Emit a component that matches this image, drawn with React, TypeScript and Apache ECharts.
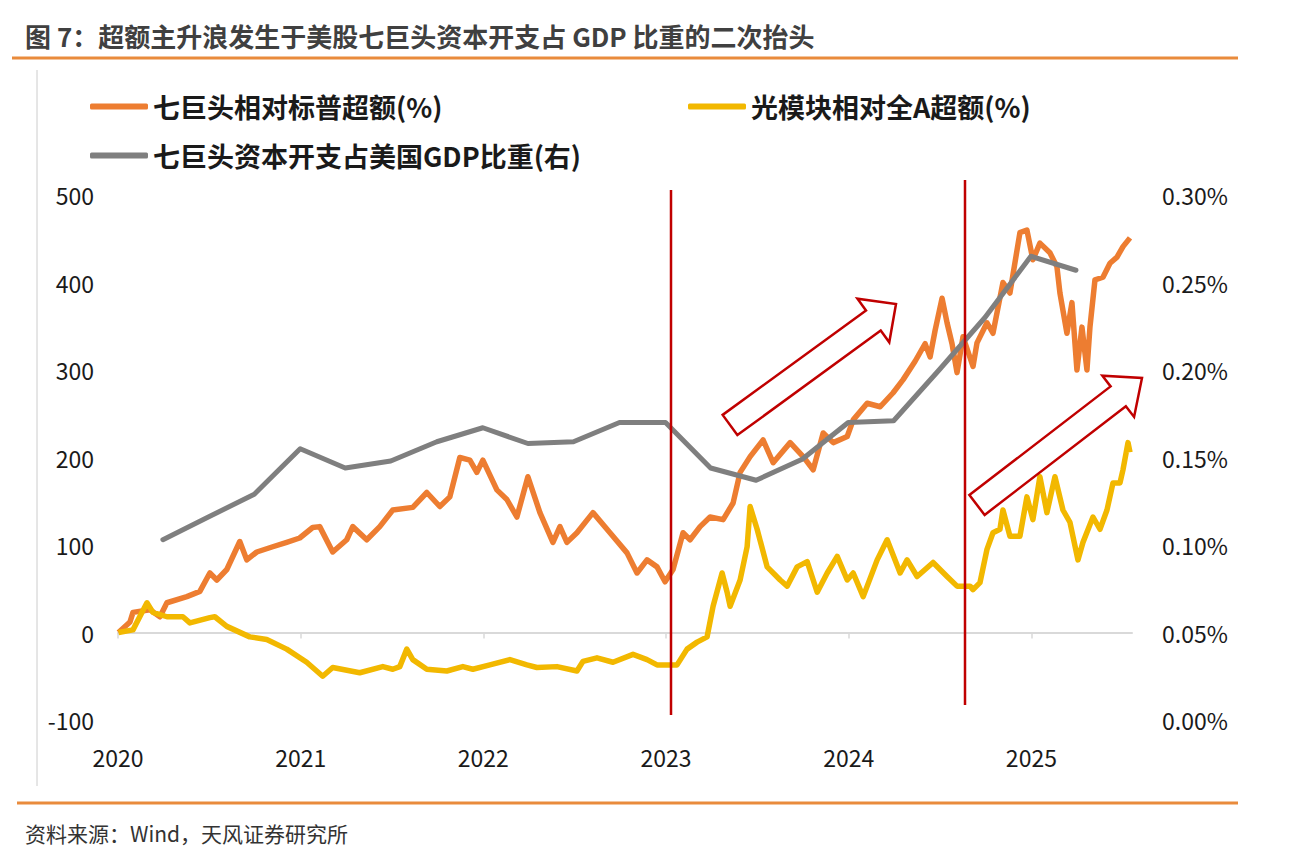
import React, { useEffect, useRef } from "react";
import * as echarts from "echarts";

// ---------- data ----------
const yearTicks = [2020, 2021, 2022, 2023, 2024, 2025];
const xEnd = "2025-07-21";
const leftTicks = { min: -100, max: 500, interval: 100 };
const rightTicks = { min: 0, max: 0.3, interval: 0.05 };

// 七巨头相对标普超额(%)
const mag7Excess: [string, number][] = [
  ["2020-01-02", 0], ["2020-01-25", 12], ["2020-01-31", 23], ["2020-03-05", 26],
  ["2020-03-25", 18], ["2020-04-08", 34], ["2020-05-18", 41], ["2020-06-13", 47],
  ["2020-07-03", 68], ["2020-07-17", 60], ["2020-08-06", 72], ["2020-09-01", 104],
  ["2020-09-15", 83], ["2020-10-05", 92], ["2020-11-06", 98], ["2020-12-04", 103],
  ["2020-12-30", 108], ["2021-01-25", 120], ["2021-02-08", 121], ["2021-03-06", 92],
  ["2021-04-03", 106], ["2021-04-15", 121], ["2021-05-13", 106], ["2021-06-08", 121],
  ["2021-07-04", 140], ["2021-08-13", 143], ["2021-09-10", 160], ["2021-10-06", 144],
  ["2021-10-26", 155], ["2021-11-15", 200], ["2021-12-05", 197], ["2021-12-19", 183],
  ["2021-12-31", 197], ["2022-01-28", 163], ["2022-02-17", 152], ["2022-03-09", 132],
  ["2022-03-31", 178], ["2022-04-24", 137], ["2022-05-20", 103], ["2022-06-03", 121],
  ["2022-06-17", 103], ["2022-07-07", 114], ["2022-08-08", 137], ["2022-09-11", 114],
  ["2022-10-15", 91], ["2022-11-04", 68], ["2022-11-24", 83], ["2022-12-14", 75],
  ["2022-12-30", 58], ["2023-01-15", 72], ["2023-02-04", 114], ["2023-02-18", 106],
  ["2023-03-10", 121], ["2023-03-30", 132], ["2023-04-25", 129], ["2023-05-15", 148],
  ["2023-05-29", 183], ["2023-06-18", 201], ["2023-07-14", 220], ["2023-08-03", 194],
  ["2023-09-06", 217], ["2023-10-02", 201], ["2023-10-22", 186], ["2023-11-11", 228],
  ["2023-12-01", 217], ["2023-12-29", 224], ["2024-01-10", 243], ["2024-02-07", 262],
  ["2024-03-04", 258], ["2024-03-30", 274], ["2024-04-19", 289], ["2024-05-13", 310],
  ["2024-06-02", 330], ["2024-06-12", 315], ["2024-06-22", 345], ["2024-07-06", 382],
  ["2024-07-16", 354], ["2024-07-26", 330], ["2024-08-05", 297], ["2024-08-17", 338],
  ["2024-09-06", 304], ["2024-09-14", 331], ["2024-10-04", 354], ["2024-10-16", 342],
  ["2024-11-05", 400], ["2024-11-19", 388], ["2024-12-09", 457], ["2024-12-23", 460],
  ["2025-01-04", 426], ["2025-01-18", 445], ["2025-02-07", 434], ["2025-02-21", 418],
  ["2025-02-27", 388], ["2025-03-13", 342], ["2025-03-23", 377], ["2025-04-02", 300],
  ["2025-04-12", 349], ["2025-04-22", 300], ["2025-04-28", 349], ["2025-05-08", 403],
  ["2025-05-24", 406], ["2025-06-07", 422], ["2025-06-21", 429], ["2025-07-03", 441],
  ["2025-07-17", 451],
];

// 光模块相对全A超额(%)
const opticalExcess: [string, number][] = [
  ["2020-01-02", 0], ["2020-01-31", 3], ["2020-02-28", 34], ["2020-03-11", 23],
  ["2020-04-08", 18], ["2020-05-10", 18], ["2020-05-24", 11], ["2020-07-03", 17],
  ["2020-07-13", 18], ["2020-08-06", 7], ["2020-09-21", -5], ["2020-10-25", -8],
  ["2020-12-04", -19], ["2021-01-13", -34], ["2021-02-14", -50], ["2021-03-06", -40],
  ["2021-04-29", -46], ["2021-06-14", -39], ["2021-07-04", -42], ["2021-07-18", -39],
  ["2021-08-01", -19], ["2021-08-13", -31], ["2021-09-10", -42], ["2021-10-20", -44],
  ["2021-11-21", -39], ["2021-12-11", -42], ["2022-01-14", -37], ["2022-02-23", -31],
  ["2022-03-29", -37], ["2022-04-18", -40], ["2022-05-28", -39], ["2022-07-07", -44],
  ["2022-07-19", -33], ["2022-08-16", -29], ["2022-09-17", -34], ["2022-10-27", -25],
  ["2022-11-24", -31], ["2022-12-14", -37], ["2023-01-23", -37], ["2023-02-12", -19],
  ["2023-03-04", -11], ["2023-03-24", -5], ["2023-04-05", 30], ["2023-04-23", 68],
  ["2023-05-03", 46], ["2023-05-09", 30], ["2023-05-29", 60], ["2023-06-12", 98],
  ["2023-06-18", 144], ["2023-07-02", 118], ["2023-07-22", 75], ["2023-08-17", 60],
  ["2023-08-31", 53], ["2023-09-20", 75], ["2023-10-10", 81], ["2023-10-30", 46],
  ["2023-11-19", 68], ["2023-12-09", 87], ["2023-12-29", 60], ["2024-01-10", 68],
  ["2024-01-30", 41], ["2024-02-27", 83], ["2024-03-18", 106], ["2024-04-13", 68],
  ["2024-04-27", 83], ["2024-05-17", 64], ["2024-06-18", 80], ["2024-07-16", 64],
  ["2024-08-05", 53], ["2024-08-31", 53], ["2024-09-06", 49], ["2024-09-20", 57],
  ["2024-10-04", 95], ["2024-10-16", 114], ["2024-10-30", 118], ["2024-11-05", 140],
  ["2024-11-19", 110], ["2024-12-09", 110], ["2024-12-23", 155], ["2025-01-04", 129],
  ["2025-01-18", 178], ["2025-02-01", 137], ["2025-02-17", 178], ["2025-03-05", 140],
  ["2025-03-19", 126], ["2025-04-04", 83], ["2025-04-14", 103], ["2025-05-04", 132],
  ["2025-05-18", 118], ["2025-06-01", 140], ["2025-06-13", 171], ["2025-06-27", 171],
  ["2025-07-03", 186], ["2025-07-13", 217], ["2025-07-17", 206],
];

// 七巨头资本开支占美国GDP比重(右), in %
const capexGdp: [string, number][] = [
  ["2020-03-31", 0.103], ["2020-06-30", 0.116], ["2020-09-30", 0.129], ["2020-12-31", 0.155],
  ["2021-03-31", 0.144], ["2021-06-30", 0.148], ["2021-09-30", 0.159], ["2021-12-31", 0.167],
  ["2022-03-31", 0.158], ["2022-06-30", 0.159], ["2022-09-30", 0.17], ["2022-12-31", 0.17],
  ["2023-03-31", 0.144], ["2023-06-30", 0.137], ["2023-09-30", 0.149], ["2023-12-31", 0.17],
  ["2024-03-31", 0.171], ["2024-06-30", 0.2], ["2024-09-30", 0.23], ["2024-12-31", 0.265],
  ["2025-03-31", 0.257],
];

const seriesNames = [
  "七巨头相对标普超额(%)",
  "光模块相对全A超额(%)",
  "七巨头资本开支占美国GDP比重(右)",
];
const titleText = "图 7：超额主升浪发生于美股七巨头资本开支占 GDP 比重的二次抬头";
const sourceText = "资料来源：Wind，天风证券研究所";

// ---------- helpers ----------
const toYear = (s: string) => {
  const [y, m, d] = s.split("-").map(Number);
  const start = Date.UTC(y, 0, 1);
  const end = Date.UTC(y + 1, 0, 1);
  return y + (Date.UTC(y, m - 1, d) - start) / (end - start);
};
const toXY = (arr: [string, number][]) => arr.map(([d, v]) => [toYear(d), v]);

const arrowPoints = (
  tail: [number, number],
  tip: [number, number],
  w: number,
  W: number,
  h: number
) => {
  const dx = tip[0] - tail[0];
  const dy = tip[1] - tail[1];
  const L = Math.hypot(dx, dy);
  const ux = dx / L, uy = dy / L;
  const nx = -uy, ny = ux;
  const bx = tip[0] - ux * h, by = tip[1] - uy * h;
  return [
    [tail[0] + nx * w, tail[1] + ny * w],
    [bx + nx * w, by + ny * w],
    [bx + nx * W, by + ny * W],
    [tip[0], tip[1]],
    [bx - nx * W, by - ny * W],
    [bx - nx * w, by - ny * w],
    [tail[0] - nx * w, tail[1] - ny * w],
  ];
};

const FONT = "'Noto Sans CJK SC', 'Noto Sans', sans-serif";
const ORANGE = "#ED7D31";
const YELLOW = "#F2B800";
const GRAY = "#7F7F7F";
const RED = "#C00000";
const RULE = "#E98B3C";

export default function App() {
  const ref = useRef<HTMLDivElement>(null);

  useEffect(() => {
    document.body.style.margin = "0";
    if (!ref.current) return;
    const chart = echarts.init(ref.current, null, { renderer: "svg" });

    const legendText = {
      fontSize: 27,
      fontWeight: "bold" as const,
      color: "#1a1a1a",
      fontFamily: FONT,
    };
    const legendBase = {
      orient: "horizontal" as const,
      icon: "roundRect",
      itemWidth: 58,
      itemHeight: 6,
      padding: 0,
      textStyle: legendText,
    };

    const option: any = {
      animation: false,
      backgroundColor: "#ffffff",
      textStyle: { fontFamily: FONT },
      title: [
        {
          text: titleText,
          left: 20,
          top: 17,
          textStyle: { fontSize: 26, fontWeight: "bold", color: "#404040", fontFamily: FONT },
        },
        {
          text: sourceText,
          left: 20,
          top: 817,
          textStyle: { fontSize: 21, fontWeight: "normal", color: "#333333", fontFamily: FONT },
        },
      ],
      legend: [
        { ...legendBase, left: 90, top: 93, data: [seriesNames[0]] },
        { ...legendBase, left: 688, top: 93, data: [seriesNames[1]] },
        { ...legendBase, left: 90, top: 142, data: [seriesNames[2]] },
      ],
      grid: { left: 118, right: 163, top: 195, bottom: 135 },
      xAxis: {
        type: "value",
        min: 2020,
        max: toYear(xEnd),
        interval: 1,
        axisLine: { show: true, onZero: true, lineStyle: { color: "#D9D9D9", width: 2 } },
        axisTick: {
          show: true,
          length: 6,
          customValues: yearTicks,
          lineStyle: { color: "#D9D9D9", width: 1.5 },
        },
        axisLabel: {
          margin: 25,
          fontSize: 23,
          color: "#1a1a1a",
          fontFamily: FONT,
          customValues: yearTicks,
          formatter: (v: number) => (Number.isInteger(v) ? String(v) : ""),
        },
        splitLine: { show: false },
      },
      yAxis: [
        {
          type: "value",
          min: leftTicks.min,
          max: leftTicks.max,
          interval: leftTicks.interval,
          axisLine: { show: false },
          axisTick: { show: false },
          splitLine: { show: false },
          axisLabel: { margin: 24, fontSize: 23, color: "#1a1a1a", fontFamily: FONT },
        },
        {
          type: "value",
          position: "right",
          min: rightTicks.min,
          max: rightTicks.max,
          interval: rightTicks.interval,
          axisLine: { show: false },
          axisTick: { show: false },
          splitLine: { show: false },
          axisLabel: {
            margin: 30,
            fontSize: 23,
            color: "#1a1a1a",
            fontFamily: FONT,
            formatter: (v: number) => v.toFixed(2) + "%",
          },
        },
      ],
      series: [
        {
          name: seriesNames[0],
          type: "line",
          yAxisIndex: 0,
          data: toXY(mag7Excess),
          showSymbol: false,
          symbol: "none",
          lineStyle: { color: ORANGE, width: 5.5, join: "round" },
          itemStyle: { color: ORANGE },
          z: 2,
        },
        {
          name: seriesNames[1],
          type: "line",
          yAxisIndex: 0,
          data: toXY(opticalExcess),
          showSymbol: false,
          symbol: "none",
          lineStyle: { color: YELLOW, width: 5.5, join: "round" },
          itemStyle: { color: YELLOW },
          z: 3,
        },
        {
          name: seriesNames[2],
          type: "line",
          yAxisIndex: 1,
          data: toXY(capexGdp),
          showSymbol: false,
          symbol: "none",
          lineStyle: { color: GRAY, width: 5, join: "round", cap: "round" },
          itemStyle: { color: GRAY },
          z: 4,
        },
      ],
      graphic: [
        { type: "line", shape: { x1: 12, y1: 58, x2: 1238, y2: 58 }, style: { stroke: RULE, lineWidth: 3 }, silent: true },
        { type: "line", shape: { x1: 17, y1: 803, x2: 1238, y2: 803 }, style: { stroke: RULE, lineWidth: 3 }, silent: true },
        { type: "line", shape: { x1: 37, y1: 70, x2: 37, y2: 786 }, style: { stroke: "#CCCCCC", lineWidth: 1 }, silent: true },
        { type: "line", shape: { x1: 671, y1: 190, x2: 671, y2: 715 }, style: { stroke: RED, lineWidth: 2.5 }, z: 10, silent: true },
        { type: "line", shape: { x1: 965, y1: 180, x2: 965, y2: 705 }, style: { stroke: RED, lineWidth: 2.5 }, z: 10, silent: true },
        {
          type: "polygon",
          shape: { points: arrowPoints([730, 425], [896, 304], 12.5, 27, 28) },
          style: { fill: "#ffffff", stroke: RED, lineWidth: 2.5 },
          z: 10,
          silent: true,
        },
        {
          type: "polygon",
          shape: { points: arrowPoints([977, 505], [1142, 378], 12.5, 26, 30) },
          style: { fill: "#ffffff", stroke: RED, lineWidth: 2.5 },
          z: 10,
          silent: true,
        },
      ],
    };

    chart.setOption(option);
    return () => chart.dispose();
  }, []);

  return <div ref={ref} style={{ width: 1295, height: 855 }} />;
}
